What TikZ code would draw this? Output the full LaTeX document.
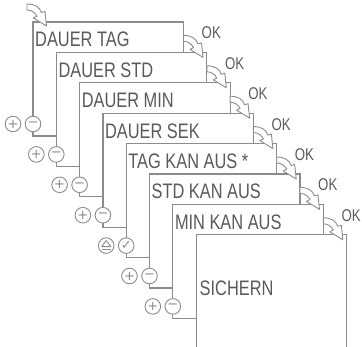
\documentclass[tikz,border=0pt]{standalone}
\usepackage{fontspec}
\setmainfont{Liberation Sans}
\newfontfamily\lcd[FakeStretch=0.78]{Liberation Sans}
\newfontfamily\sym{DejaVu Sans}
\definecolor{ln}{HTML}{8C8C8C}
\definecolor{tx}{HTML}{5A5A5A}
\tikzset{
  lcdtext/.style={font=\lcd\fontsize{21}{21}\selectfont, text=tx, inner sep=0pt, anchor=base west},
  oktext/.style={font=\lcd\fontsize{17}{17}\selectfont, text=tx, inner sep=0pt, anchor=base west},
  boxshape/.style={draw=ln, fill=white, line width=1.2pt},
  btn/.style={circle, draw=ln, fill=white, line width=0.9pt, minimum size=15.6pt, inner sep=0pt, font=\sym\fontsize{13}{13}\selectfont, text=ln},
  arr/.style={draw=ln, fill=white, line width=0.9pt, line join=round},
  symline/.style={draw=ln, line width=0.9pt, line join=round},
  pics/okarr/.style={code={
    \path[arr] (0,-17) .. controls (8,-17) and (12.5,-14) .. (14.5,-8.5) -- (18,-9.5) -- (19.5,5) -- (6.5,-3) -- (10,-4.8) .. controls (8,-8.5) and (4.5,-11) .. (0,-11) -- cycle;}}
}
\begin{document}
\begin{tikzpicture}[x=1pt,y=-1pt]
\useasboundingbox (0,0) rectangle (362,347);
\clip (0,0) rectangle (362,347);
% boxes with their buttons
\foreach \i/\L/\T/\txt in {0/33/22/DAUER TAG, 1/56.3/52.4/DAUER STD, 2/79.6/82.8/DAUER MIN, 3/102.9/113.2/DAUER SEK}{
  \draw[boxshape] (\L,\T) rectangle ++(150.5,114);
  \node[lcdtext] (lab\i) at (\L+2,\T+25) {\txt};
  \node[btn] (minus\i) at (\L,\T+102) {−};
  \node[btn] (plus\i) at (\L-20,\T+102) {+};
}
% box 5 with eject / check buttons
\draw[boxshape] (126.2,143.6) rectangle ++(150.5,114);
\node[lcdtext] (lab4) at (128.2,168.6) {TAG KAN AUS *};
\node[btn] (check4) at (126.2,245.6) {✓};
\node[btn] (eject4) at (106.2,245.6) {};
\draw[symline] ([xshift=-4.5pt,yshift=-1pt]eject4.center) -- ([yshift=5pt]eject4.center) -- ([xshift=4.5pt,yshift=-1pt]eject4.center) -- cycle;
\draw[symline] ([xshift=-4.5pt,yshift=-4pt]eject4.center) -- ([xshift=4.5pt,yshift=-4pt]eject4.center);
\foreach \i/\L/\T/\txt in {5/149.5/174/STD KAN AUS, 6/172.8/204.4/MIN KAN AUS}{
  \draw[boxshape] (\L,\T) rectangle ++(150.5,114);
  \node[lcdtext] (lab\i) at (\L+2,\T+25) {\txt};
  \node[btn] (minus\i) at (\L,\T+102) {−};
  \node[btn] (plus\i) at (\L-20,\T+102) {+};
}
% last box
\draw[boxshape] (196.1,234.8) rectangle (346.6,352);
\node[lcdtext] (lab7) at (199.5,296) {SICHERN};
% entry arrow
\pic at (27,21) {okarr};
% OK arrows
\foreach \i/\R/\T/\Tn in {0/183.5/22/52.4, 1/206.8/52.4/82.8, 2/230.1/82.8/113.2, 3/253.4/113.2/143.6, 4/276.7/143.6/174, 5/300/174/204.4, 6/323.3/204.4/234.8}{
  \pic at (\R,\Tn) {okarr};
  \node[oktext] (ok\i) at (\R+18,\T+17) {OK};
}
\end{tikzpicture}
\end{document}
